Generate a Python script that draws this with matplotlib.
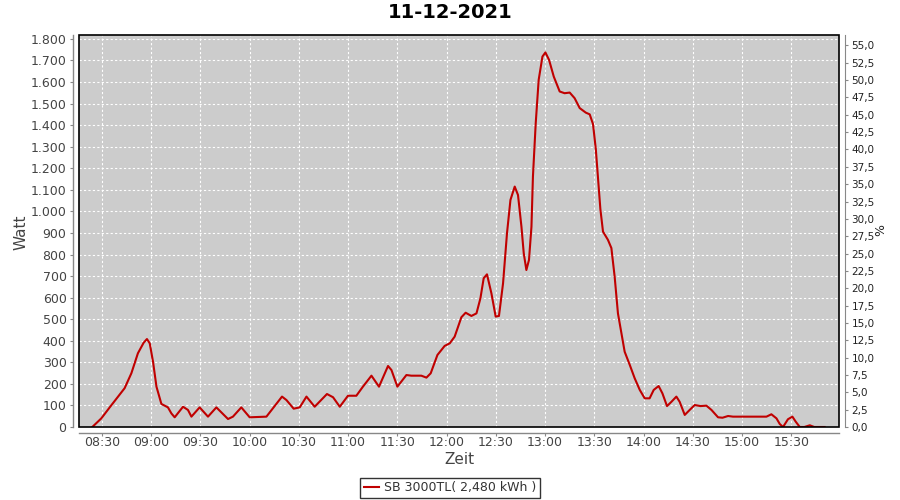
import matplotlib
matplotlib.use("Agg")
import matplotlib.pyplot as plt
from matplotlib.patches import Rectangle
from matplotlib.ticker import FixedLocator, FuncFormatter, MultipleLocator

# ---- data (time in minutes since midnight, power in Watt) ----
time_min = [504.1, 509.6, 514.7, 519.8, 523.8, 527.9, 531.9, 535.4, 537.4, 539.1,
            541.1, 543.2, 546.2, 550.2, 552.3, 554.3, 559.4, 562.4, 564.5, 569.5,
            574.6, 579.7, 586.8, 589.8, 594.9, 600.0, 610.2, 614.2, 619.7, 622.4,
            626.8, 630.5, 634.6, 639.6, 647.1, 650.8, 654.9, 659.9, 665.0, 669.0,
            674.2, 678.8, 684.3, 686.4, 690.0, 695.5, 698.5, 704.6, 707.7, 710.3,
            714.4, 718.8, 721.9, 724.9, 729.0, 731.6, 735.1, 738.2, 740.6, 742.6,
            744.6, 747.3, 749.9, 751.9, 754.4, 756.8, 758.9, 761.5, 763.5, 765.6,
            767.0, 768.6, 770.2, 771.7, 772.6, 774.3, 776.1, 778.4, 780.2, 782.4,
            785.3, 788.9, 791.9, 795.0, 798.0, 801.1, 804.8, 807.2, 809.2, 810.9,
            812.3, 813.7, 815.3, 818.3, 820.4, 822.4, 824.4, 826.5, 828.5, 831.6,
            834.6, 837.7, 840.7, 843.7, 846.2, 849.2, 851.5, 854.3, 857.0, 860.0,
            862.0, 865.1, 868.1, 871.2, 874.7, 878.3, 881.4, 885.4, 888.1, 891.5,
            894.5, 914.9, 917.9, 921.0, 923.0, 925.0, 928.0, 930.7, 932.7, 935.2,
            938.0, 941.3, 944.0, 950.3]
watt = [0, 40, 91, 141, 180, 249, 342, 391, 408, 388,
        303, 187, 107, 91, 63, 45, 94, 79, 48, 91,
        48, 91, 37, 48, 91, 45, 48, 87, 141, 125,
        85, 91, 141, 94, 153, 138, 94, 145, 145, 187,
        238, 187, 283, 264, 187, 241, 238, 238, 229, 249,
        334, 376, 388, 419, 509, 530, 515, 527, 597, 690,
        708, 620, 512, 515, 667, 899, 1053, 1115, 1076, 929,
        806, 728, 775, 929, 1161, 1409, 1610, 1718, 1737, 1703,
        1625, 1556, 1548, 1551, 1525, 1479, 1458, 1450, 1405, 1290,
        1150, 1010, 906, 868, 830, 697, 527, 435, 349, 288,
        226, 172, 133, 133, 172, 190, 156, 97, 117, 141,
        117, 56, 79, 102, 97, 99, 79, 45, 43, 51,
        48, 48, 59, 40, 14, 0, 36, 48, 25, 0,
        0, 8, 0, 0]

x_ticks = [510, 540, 570, 600, 630, 660, 690, 720, 750, 780, 810, 840, 870, 900, 930]
x_tick_labels = ["08:30", "09:00", "09:30", "10:00", "10:30", "11:00", "11:30", "12:00",
                 "12:30", "13:00", "13:30", "14:00", "14:30", "15:00", "15:30"]

title = "11-12-2021"
series_label = "SB 3000TL( 2,480 kWh )"

# ---- figure ----
fig = plt.figure(figsize=(9, 5), dpi=100)
fig.patch.set_facecolor("white")
ax = fig.add_axes([79 / 900, 73 / 500, 760 / 900, 392 / 500])
ax.set_facecolor("#cccccc")

line, = ax.plot(time_min, watt, color="#c00000", lw=1.5, label=series_label,
                solid_joinstyle="round", zorder=3)

ax.set_xlim(496.0, 959.1)
ax.set_ylim(0, 1818)

ax.xaxis.set_major_locator(FixedLocator(x_ticks))
ax.set_xticklabels(x_tick_labels)
ax.yaxis.set_major_locator(MultipleLocator(100))
ax.yaxis.set_major_formatter(FuncFormatter(lambda v, p: f"{v:,.0f}".replace(",", ".")))

ax.grid(True, color="white", linestyle=(0, (2, 2)), linewidth=0.8)
ax.set_axisbelow(True)

spine_col = "#888888"
for s in ["top", "right"]:
    ax.spines[s].set_visible(False)
for s in ["left", "bottom"]:
    ax.spines[s].set_position(("outward", 4))
    ax.spines[s].set_color(spine_col)
    ax.spines[s].set_linewidth(1.0)

ax.tick_params(axis="both", direction="out", length=2.5, width=0.8, color=spine_col,
               labelcolor="#444444", labelsize=9)
ax.tick_params(axis="y", pad=2.5)
ax.tick_params(axis="x", length=2, pad=0.5)

# plot frame
ax.add_patch(Rectangle((0, 0), 1, 1, transform=ax.transAxes, fill=False,
                       ec="black", lw=1.2, zorder=5, clip_on=False))

# right axis (%)
ax2 = ax.twinx()
ax2.set_ylim(0, 56.5)
ax2.yaxis.set_major_locator(MultipleLocator(2.5))
ax2.yaxis.set_major_formatter(FuncFormatter(lambda v, p: f"{v:.1f}".replace(".", ",")))
for s in ["top", "left", "bottom"]:
    ax2.spines[s].set_visible(False)
ax2.spines["right"].set_position(("outward", 4))
ax2.spines["right"].set_color(spine_col)
ax2.tick_params(axis="y", direction="out", length=2.5, width=0.8, color=spine_col,
                labelcolor="#222222", labelsize=7.5, pad=2.5)

# texts
fig.text(0.5, 1 - 13 / 500, title, ha="center", va="center", fontsize=14,
         fontweight="bold", color="black")
fig.text(21 / 900, 1 - 232 / 500, "Watt", rotation=90, ha="center", va="center",
         fontsize=11, color="#444444")
fig.text(881 / 900, 1 - 230 / 500, "%", rotation=90, ha="center", va="center",
         fontsize=9, color="#222222")
fig.text(459 / 900, 1 - 460 / 500, "Zeit", ha="center", va="center",
         fontsize=11, color="#444444")

leg = fig.legend(handles=[line], loc="center", bbox_to_anchor=(450 / 900, 1 - 488 / 500),
                 frameon=True, fancybox=False, edgecolor="black", fontsize=9,
                 handlelength=1.2, handletextpad=0.4, borderpad=0.3, borderaxespad=0)
leg.get_frame().set_linewidth(1.0)
for t in leg.get_texts():
    t.set_color("#333333")

fig.savefig("out.png", dpi=100)
